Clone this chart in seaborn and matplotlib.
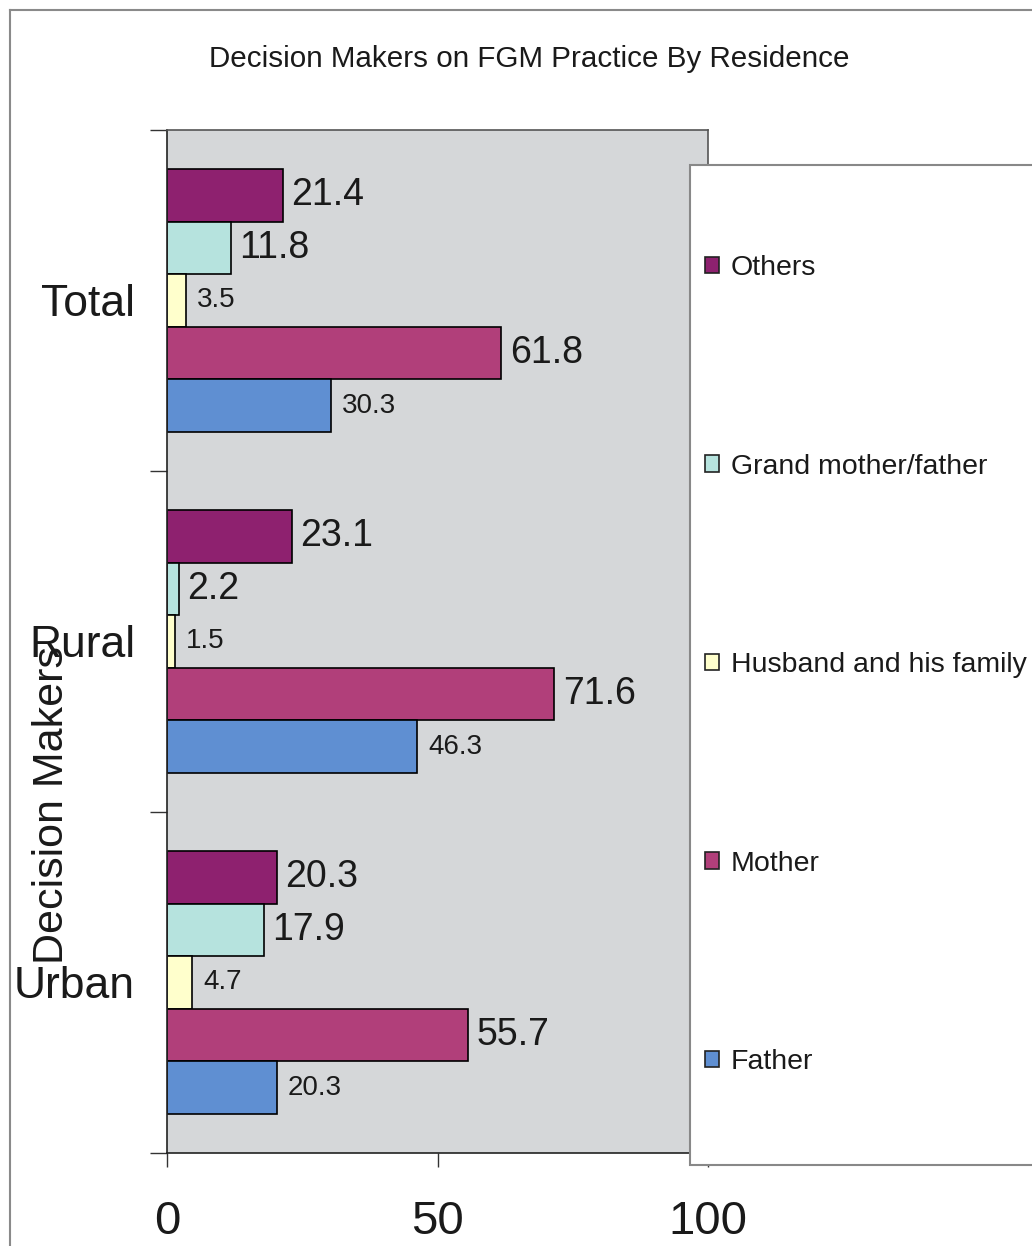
import matplotlib
matplotlib.use("Agg")
import matplotlib.pyplot as plt
from matplotlib.patches import Patch, Rectangle
from matplotlib.lines import Line2D
import seaborn as sns
import pandas as pd

# ---- data ----
categories = ["Total", "Rural", "Urban"]
series_names = ["Others", "Grand mother/father", "Husband and his family", "Mother", "Father"]
others = [21.4, 23.1, 20.3]
grand = [11.8, 2.2, 17.9]
husband = [3.5, 1.5, 4.7]
mother = [61.8, 71.6, 55.7]
father = [30.3, 46.3, 20.3]
x_ticks = [0, 50, 100]

colors = {
    "Others": "#8E216F",
    "Grand mother/father": "#B6E3DE",
    "Husband and his family": "#FFFFCC",
    "Mother": "#B13F7A",
    "Father": "#5F8FD2",
}
label_sizes = {
    "Others": 27, "Grand mother/father": 27, "Husband and his family": 20,
    "Mother": 27, "Father": 20,
}

values = [others, grand, husband, mother, father]
rows = []
for name, vals in zip(series_names, values):
    for c, v in zip(categories, vals):
        rows.append({"Residence": c, "Decision": name, "Value": v})
df = pd.DataFrame(rows)

FONT = ["Liberation Sans", "DejaVu Sans"]
plt.rcParams["font.family"] = FONT
TXT = "#1a1a1a"

W, H = 1032, 1246
fig = plt.figure(figsize=(W / 100, H / 100), dpi=100)
fig.patch.set_facecolor("white")

ax = fig.add_axes([167 / W, 1 - 1153 / H, (708 - 167) / W, (1153 - 130) / H])
ax.set_facecolor("#D5D7D9")

sns.barplot(
    data=df, y="Residence", x="Value", hue="Decision", orient="h",
    order=categories, hue_order=series_names, palette=colors, saturation=1,
    width=0.77, gap=0, errorbar=None, edgecolor="black", linewidth=1.2,
    legend=False, ax=ax,
)

for cont, name in zip(ax.containers, series_names):
    pad = 6 if label_sizes[name] > 24 else 8
    ax.bar_label(cont, fmt="%.1f", padding=pad, fontsize=label_sizes[name], color=TXT)

ax.set_xlim(0, 100)
ax.set_ylim(2.5, -0.5)
ax.set_xticks(x_ticks)
ax.set_xticklabels([str(t) for t in x_ticks], fontsize=34, color=TXT)
ax.tick_params(axis="x", direction="out", length=10, width=1, pad=24, color="#333333")

ax.set_yticks([-0.5, 0.5, 1.5, 2.5])
ax.set_yticklabels(["", "", "", ""])
ax.tick_params(axis="y", which="major", direction="out", length=12, width=1, color="#333333")
ax.set_yticks([0, 1, 2], minor=True)
ax.set_yticklabels(categories, minor=True, fontsize=32, color=TXT)
ax.tick_params(axis="y", which="minor", length=0, pad=23)

ax.set_xlabel("")
ax.set_ylabel("Decision Makers", fontsize=31, color=TXT)
ax.yaxis.set_label_coords(-0.175, 0.340)

for side in ["top", "right"]:
    ax.spines[side].set_color("#555555")
    ax.spines[side].set_linewidth(1.2)
for side in ["left", "bottom"]:
    ax.spines[side].set_color("#222222")
    ax.spines[side].set_linewidth(1.2)

fig.text(529 / W, 1 - 59 / H, "Decision Makers on FGM Practice By Residence",
         ha="center", va="center", fontsize=21.3, color=TXT)

# outer chart border (left & top visible)
fig.add_artist(Line2D([10 / W, 10 / W], [0, 1 - 10 / H], transform=fig.transFigure,
                      color="#8a8a8a", lw=1.5))
fig.add_artist(Line2D([10 / W, 1], [1 - 10 / H, 1 - 10 / H], transform=fig.transFigure,
                      color="#8a8a8a", lw=1.5))

# legend box
fig.add_artist(Rectangle((690 / W, 1 - 1165 / H), (W + 20 - 690) / W, (1165 - 165) / H,
                         transform=fig.transFigure, facecolor="white",
                         edgecolor="#888888", lw=1.5, zorder=3, clip_on=False))

handles = [Patch(facecolor=colors[n], edgecolor="#222222", lw=1.2) for n in series_names]
fig.legend(handles, series_names, loc="upper left",
           bbox_to_anchor=(705 / W, 1 - 255 / H), bbox_transform=fig.transFigure,
           frameon=False, fontsize=20.5, labelspacing=6.06, handlelength=0.5,
           handleheight=0.5, handletextpad=0.4, borderpad=0, borderaxespad=0,
           labelcolor=TXT)

fig.savefig("out.png", dpi=100)
